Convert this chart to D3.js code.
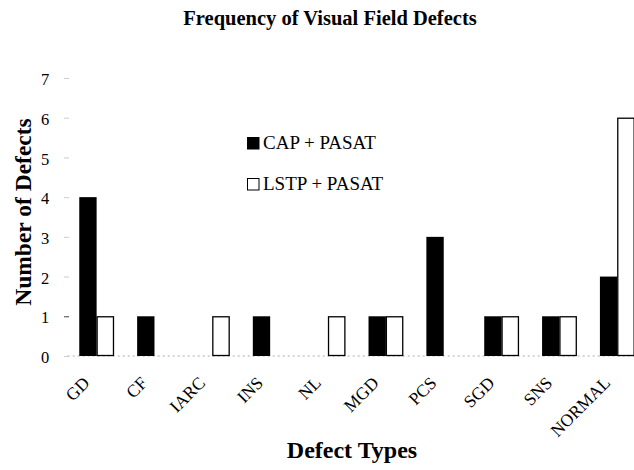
<!DOCTYPE html>
<html lang="en">
<head>
<meta charset="UTF-8">
<title>Frequency of Visual Field Defects</title>
<script src="https://cdn.jsdelivr.net/npm/d3@7"></script>
<style>
    body { margin: 0; background: #fff; }
</style>
</head>
<body>
<div id="chart"></div>
<script>
// categories and the two series
const categories = ["GD", "CF", "IARC", "INS", "NL", "MGD", "PCS", "SGD", "SNS", "NORMAL"];
const series = ["CAP + PASAT", "LSTP + PASAT"];
const capPasat  = [4, 1, 0, 1, 0, 1, 3, 1, 1, 2];
const lstpPasat = [1, 0, 1, 0, 1, 1, 0, 1, 1, 6];
const yTicks = [0, 1, 2, 3, 4, 5, 6, 7];

const width = 634, height = 470;
const fills = ["#000", "#fff"];
const serif = "'Liberation Serif', 'Times New Roman', serif";

const svg = d3.select("#chart").append("svg")
    .attr("width", width)
    .attr("height", height);

const x = d3.scaleBand()
    .domain(categories)
    .range([67.7, 646.2])
    .paddingInner(0.4)
    .paddingOuter(0.2);

const xSub = d3.scaleBand()
    .domain(series)
    .range([0, x.bandwidth()]);

const y = d3.scaleLinear()
    .domain([0, 7])
    .range([356, 78]);

// baseline, faint dotted
svg.append("line")
    .attr("x1", x.range()[0]).attr("x2", width)
    .attr("y1", y(0)).attr("y2", y(0))
    .attr("stroke", "#aaa")
    .attr("stroke-dasharray", "2,3");

// y axis: only ticks + labels, no domain line
const yAxis = svg.append("g")
    .attr("transform", "translate(69,0)")
    .call(d3.axisLeft(y).tickValues(yTicks).tickFormat(d3.format("d")).tickSize(5).tickPadding(14));
yAxis.select(".domain").remove();
yAxis.selectAll(".tick line").attr("stroke", (d) => d === 1 ? "#444" : "#ccc");
yAxis.selectAll(".tick text")
    .style("font-family", serif)
    .style("font-size", "16.5px")
    .attr("fill", "#000")
    .attr("text-anchor", "middle")
    .attr("x", -24)
    .attr("dy", "0.4em");

// bars
const rows = categories.map((c, i) => ({ cat: c, vals: [capPasat[i], lstpPasat[i]] }));

const groups = svg.append("g").selectAll("g")
    .data(rows)
    .join("g")
    .attr("transform", d => `translate(${x(d.cat)},0)`);

groups.selectAll("rect")
    .data(d => d.vals.map((v, j) => ({ s: series[j], v, j })))
    .join("rect")
    .filter(d => d.v > 0)
    .attr("x", d => xSub(d.s) + (d.j === 1 ? 0.5 : 0))
    .attr("y", d => y(d.v) + (d.j === 1 ? 0.5 : 0))
    .attr("width", d => xSub.bandwidth() - (d.j === 1 ? 1 : 0))
    .attr("height", d => y(0) - y(d.v) - (d.j === 1 ? 1 : 0))
    .attr("fill", d => fills[d.j])
    .attr("stroke", d => d.j === 1 ? "#000" : "none")
    .attr("stroke-width", 1.3);

// x tick labels, rotated
svg.append("g").selectAll("text")
    .data(categories)
    .join("text")
    .attr("transform", d => `translate(${x(d) + x.bandwidth() / 2 - 6},384) rotate(-45)`)
    .attr("text-anchor", "end")
    .style("font-family", serif)
    .style("font-size", "17.5px")
    .text(d => d);

// title
svg.append("text")
    .attr("x", 330).attr("y", 25)
    .attr("text-anchor", "middle")
    .style("font-family", serif)
    .style("font-size", "20.5px")
    .style("font-weight", "bold")
    .text("Frequency of Visual Field Defects");

// axis titles
svg.append("text")
    .attr("x", 352).attr("y", 458)
    .attr("text-anchor", "middle")
    .style("font-family", serif)
    .style("font-size", "24px")
    .style("font-weight", "bold")
    .text("Defect Types");

svg.append("text")
    .attr("transform", "translate(31,212) rotate(-90)")
    .attr("text-anchor", "middle")
    .style("font-family", serif)
    .style("font-size", "23.5px")
    .style("font-weight", "bold")
    .text("Number of Defects");

// legend
const legend = svg.append("g").selectAll("g")
    .data(series)
    .join("g")
    .attr("transform", (d, i) => `translate(247,${137 + i * 41})`);

legend.append("rect")
    .attr("x", 0.5).attr("y", 0.5)
    .attr("width", 11.5).attr("height", 11.5)
    .attr("fill", (d, i) => fills[i])
    .attr("stroke", "#000")
    .attr("stroke-width", 1);

legend.append("text")
    .attr("x", 16).attr("y", 12)
    .style("font-family", serif)
    .style("font-size", "19px")
    .text(d => d);
</script>
</body>
</html>
